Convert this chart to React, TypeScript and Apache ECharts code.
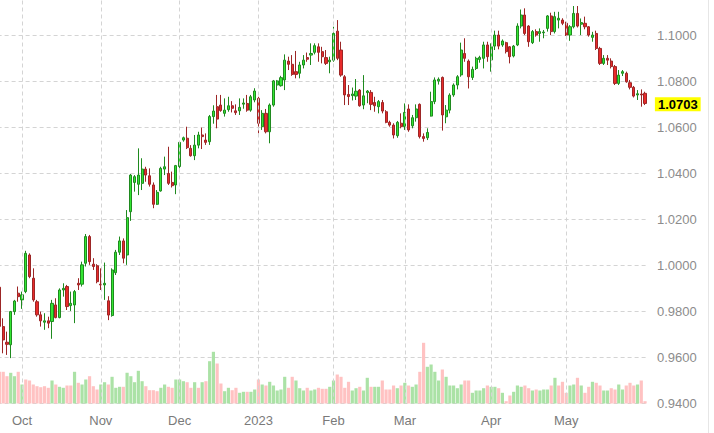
import React, { useEffect, useRef } from 'react';
import * as echarts from 'echarts';

// Trading calendar (weekdays, minus the holidays missing from the chart)
const START_DATE = '2022-09-23';
const END_DATE = '2023-05-31';
const HOLIDAYS = ['2022-11-24', '2022-12-26', '2023-01-02', '2023-01-16', '2023-02-20', '2023-05-29'];
const MONTH_NAMES = ['Jan', 'Feb', 'Mar', 'Apr', 'May', 'Jun', 'Jul', 'Aug', 'Sep', 'Oct', 'Nov', 'Dec'];

function buildDates(start: string, end: string): string[] {
  const out: string[] = [];
  const d = new Date(start + 'T00:00:00Z');
  const e = new Date(end + 'T00:00:00Z');
  while (d.getTime() <= e.getTime()) {
    const wd = d.getUTCDay();
    const s = d.toISOString().slice(0, 10);
    if (wd !== 0 && wd !== 6 && HOLIDAYS.indexOf(s) < 0) out.push(s);
    d.setUTCDate(d.getUTCDate() + 1);
  }
  return out;
}
const dates = buildDates(START_DATE, END_DATE);

const opens = [
  0.9905, 0.9734, 0.9666, 0.9655, 0.9799, 0.9879, 0.9850, 0.9886, 1.0045, 0.9944,
  0.9842, 0.9785, 0.9753, 0.9759, 0.9756, 0.9828, 0.9773, 0.9893, 0.9908, 0.9825,
  0.9828, 0.9922, 0.9918, 1.0009, 1.0125, 1.0005, 0.9998, 0.9918, 0.9915, 0.9846,
  0.9782, 0.9968, 1.0057, 1.0106, 1.0045, 1.0233, 1.0360, 1.0352, 1.0356, 1.0418,
  1.0389, 1.0349, 1.0265, 1.0323, 1.0418, 1.0399, 1.0360, 1.0349, 1.0429, 1.0544,
  1.0552, 1.0508, 1.0476, 1.0522, 1.0566, 1.0544, 1.0537, 1.0646, 1.0689, 1.0696,
  1.0660, 1.0676, 1.0693, 1.0671, 1.0671, 1.0700, 1.0703, 1.0674, 1.0718, 1.0725,
  1.0602, 1.0660, 1.0580, 1.0696, 1.0783, 1.0780, 1.0805, 1.0887, 1.0873, 1.0841,
  1.0834, 1.0870, 1.0902, 1.0913, 1.0925, 1.0949, 1.0928, 1.0902, 1.0884, 1.0891,
  1.1017, 1.0935, 1.0819, 1.0742, 1.0737, 1.0735, 1.0761, 1.0696, 1.0750, 1.0751,
  1.0707, 1.0689, 1.0707, 1.0667, 1.0621, 1.0609, 1.0563, 1.0617, 1.0602, 1.0679,
  1.0606, 1.0641, 1.0699, 1.0559, 1.0554, 1.0648, 1.0711, 1.0800, 1.0816, 1.0645,
  1.0674, 1.0740, 1.0783, 1.0827, 1.0920, 1.0887, 1.0816, 1.0855, 1.0894, 1.0899,
  1.0957, 1.0892, 1.0952, 1.1000, 1.0957, 1.0967, 1.0949, 1.0909, 1.0957, 1.1039,
  1.1087, 1.1039, 1.0967, 1.1015, 1.1007, 1.1010, 1.1029, 1.1083, 1.1015, 1.1065,
  1.1065, 1.1051, 1.1000, 1.1036, 1.1094, 1.1047, 1.1051, 1.1036, 1.0990, 1.1007,
  1.0942, 1.0877, 1.0899, 1.0887, 1.0863, 1.0790, 1.0834, 1.0834, 1.0793, 1.0773,
  1.0740, 1.0744, 1.0747,
];

const closes = [
  0.9735, 0.9676, 0.9657, 0.9799, 0.9845, 0.9864, 0.9872, 1.0052, 0.9951, 0.9850,
  0.9785, 0.9759, 0.9759, 0.9749, 0.9835, 0.9773, 0.9893, 0.9900, 0.9821, 0.9835,
  0.9886, 0.9915, 1.0002, 1.0125, 1.0016, 0.9995, 0.9929, 0.9915, 0.9922, 0.9784,
  0.9980, 1.0057, 1.0106, 1.0031, 1.0207, 1.0392, 1.0385, 1.0392, 1.0418, 1.0392,
  1.0352, 1.0265, 1.0317, 1.0421, 1.0428, 1.0356, 1.0346, 1.0433, 1.0534, 1.0554,
  1.0511, 1.0476, 1.0522, 1.0566, 1.0559, 1.0534, 1.0646, 1.0670, 1.0635, 1.0672,
  1.0674, 1.0693, 1.0682, 1.0663, 1.0686, 1.0705, 1.0674, 1.0732, 1.0757, 1.0617,
  1.0660, 1.0580, 1.0696, 1.0801, 1.0801, 1.0815, 1.0891, 1.0873, 1.0829, 1.0829,
  1.0870, 1.0891, 1.0895, 1.0920, 1.0954, 1.0925, 1.0906, 1.0877, 1.0891, 1.1007,
  1.0899, 1.0826, 1.0740, 1.0733, 1.0744, 1.0756, 1.0693, 1.0736, 1.0757, 1.0699,
  1.0693, 1.0711, 1.0670, 1.0621, 1.0609, 1.0566, 1.0621, 1.0602, 1.0664, 1.0588,
  1.0641, 1.0679, 1.0559, 1.0551, 1.0577, 1.0711, 1.0805, 1.0808, 1.0653, 1.0674,
  1.0739, 1.0783, 1.0819, 1.0935, 1.0899, 1.0819, 1.0851, 1.0899, 1.0903, 1.0957,
  1.0906, 1.0949, 1.1000, 1.0952, 1.0974, 1.0928, 1.0906, 1.0952, 1.1039, 1.1087,
  1.1007, 1.0971, 1.1015, 1.1000, 1.1015, 1.1013, 1.1083, 1.1015, 1.1080, 1.1073,
  1.1051, 1.1000, 1.1036, 1.1094, 1.1039, 1.1054, 1.1036, 1.1000, 1.1000, 1.0942,
  1.0877, 1.0899, 1.0891, 1.0863, 1.0790, 1.0826, 1.0841, 1.0797, 1.0773, 1.0735,
  1.0745, 1.0740, 1.0703,
];

const lows = [
  0.9625, 0.9618, 0.9611, 0.9597, 0.9785, 0.9842, 0.9811, 0.9879, 0.9944, 0.9842,
  0.9777, 0.9734, 0.9720, 0.9727, 0.9681, 0.9770, 0.9770, 0.9864, 0.9806, 0.9802,
  0.9749, 0.9893, 0.9908, 0.9995, 1.0002, 0.9980, 0.9922, 0.9893, 0.9850, 0.9762,
  0.9777, 0.9958, 1.0045, 1.0009, 1.0002, 1.0193, 1.0320, 1.0305, 1.0327, 1.0363,
  1.0342, 1.0248, 1.0262, 1.0320, 1.0392, 1.0349, 1.0338, 1.0309, 1.0421, 1.0537,
  1.0505, 1.0472, 1.0457, 1.0508, 1.0505, 1.0523, 1.0523, 1.0615, 1.0595, 1.0667,
  1.0646, 1.0667, 1.0664, 1.0653, 1.0653, 1.0680, 1.0667, 1.0667, 1.0708, 1.0573,
  1.0588, 1.0573, 1.0530, 1.0689, 1.0761, 1.0776, 1.0761, 1.0848, 1.0823, 1.0812,
  1.0812, 1.0855, 1.0884, 1.0870, 1.0916, 1.0884, 1.0877, 1.0870, 1.0834, 1.0884,
  1.0891, 1.0819, 1.0696, 1.0696, 1.0716, 1.0718, 1.0689, 1.0678, 1.0704, 1.0674,
  1.0667, 1.0660, 1.0660, 1.0617, 1.0602, 1.0551, 1.0554, 1.0595, 1.0588, 1.0580,
  1.0595, 1.0624, 1.0551, 1.0537, 1.0544, 1.0646, 1.0700, 1.0785, 1.0585, 1.0617,
  1.0660, 1.0732, 1.0764, 1.0819, 1.0884, 1.0768, 1.0805, 1.0848, 1.0880, 1.0855,
  1.0884, 1.0841, 1.0935, 1.0938, 1.0949, 1.0920, 1.0877, 1.0903, 1.0952, 1.1029,
  1.1000, 1.0949, 1.0961, 1.0993, 1.0971, 1.0986, 1.1015, 1.1000, 1.1007, 1.1029,
  1.1043, 1.0996, 1.0975, 1.1029, 1.1033, 1.1000, 1.1025, 1.0993, 1.0971, 1.0935,
  1.0870, 1.0870, 1.0870, 1.0855, 1.0783, 1.0783, 1.0822, 1.0793, 1.0764, 1.0729,
  1.0718, 1.0689, 1.0696,
];

const highs = [
  0.9915, 0.9770, 0.9712, 0.9802, 0.9850, 0.9908, 0.9886, 1.0063, 1.0052, 0.9987,
  0.9850, 0.9799, 0.9792, 0.9777, 0.9850, 0.9857, 0.9900, 0.9922, 0.9915, 0.9886,
  0.9893, 0.9944, 1.0016, 1.0136, 1.0132, 1.0031, 1.0005, 0.9987, 1.0012, 0.9866,
  0.9987, 1.0067, 1.0125, 1.0117, 1.0240, 1.0397, 1.0392, 1.0508, 1.0465, 1.0428,
  1.0421, 1.0360, 1.0327, 1.0428, 1.0472, 1.0515, 1.0407, 1.0436, 1.0537, 1.0559,
  1.0602, 1.0522, 1.0566, 1.0580, 1.0598, 1.0573, 1.0653, 1.0695, 1.0740, 1.0740,
  1.0725, 1.0732, 1.0713, 1.0699, 1.0725, 1.0725, 1.0740, 1.0740, 1.0769, 1.0732,
  1.0674, 1.0679, 1.0703, 1.0805, 1.0805, 1.0823, 1.0916, 1.0906, 1.0913, 1.0931,
  1.0884, 1.0913, 1.0924, 1.0964, 1.0964, 1.0964, 1.0949, 1.0935, 1.0906, 1.1036,
  1.1065, 1.0971, 1.0826, 1.0783, 1.0772, 1.0809, 1.0765, 1.0826, 1.0761, 1.0761,
  1.0732, 1.0718, 1.0718, 1.0674, 1.0628, 1.0617, 1.0627, 1.0660, 1.0703, 1.0699,
  1.0653, 1.0699, 1.0703, 1.0573, 1.0595, 1.0754, 1.0816, 1.0816, 1.0820, 1.0696,
  1.0747, 1.0790, 1.0826, 1.0967, 1.0986, 1.0894, 1.0863, 1.0906, 1.0910, 1.0971,
  1.0971, 1.0964, 1.1019, 1.1019, 1.0981, 1.0971, 1.0952, 1.0957, 1.1051, 1.1111,
  1.1116, 1.1043, 1.1022, 1.1025, 1.1029, 1.1022, 1.1087, 1.1097, 1.1101, 1.1101,
  1.1073, 1.1058, 1.1043, 1.1126, 1.1126, 1.1072, 1.1080, 1.1039, 1.1014, 1.1019,
  1.0949, 1.0913, 1.0913, 1.0899, 1.0870, 1.0848, 1.0848, 1.0841, 1.0805, 1.0779,
  1.0761, 1.0764, 1.0754,
];

// Relative volume per session and whether its bar is drawn as "up" (green) or "down" (pink)
const volumes = [
  31.7, 31.7, 27.3, 30.7, 27.3, 31.7, 19, 24, 23, 19,
  17.3, 16.3, 17.3, 15.7, 23, 19, 16.7, 15.7, 18, 18,
  31.7, 20.7, 19, 24, 27.3, 17.3, 14, 19, 21.3, 19,
  26.7, 15.7, 16.7, 16.7, 30.7, 27.3, 21.3, 32.7, 22.3, 17.3,
  13.3, 13.3, 12.3, 15.7, 19, 16.7, 15.7, 24, 24, 22.3,
  21.3, 15.7, 21.3, 15.7, 21.3, 22.3, 42.3, 51.7, 40, 20,
  12.3, 15.7, 13.3, 15.7, 10.7, 11.7, 11.7, 11.7, 14, 24,
  19, 18, 21.7, 18, 13, 14, 26.7, 15.7, 26.7, 23,
  15.3, 13, 15.7, 13, 14, 15.7, 14.7, 14.7, 16.7, 23,
  29, 26.7, 15.7, 21.7, 13, 15.3, 16.7, 13, 25.7, 16.7,
  16.7, 16.7, 23, 14, 14, 18, 15.3, 18, 20.7, 18,
  16.7, 19, 31.7, 60.7, 36.7, 39, 31.7, 23, 34, 26.7,
  18, 18, 15.3, 19, 23, 23, 10.7, 13, 13, 15.3,
  18, 16.7, 16.7, 15.3, 10.7, 2.3, 8, 11.7, 18, 16.7,
  18, 15.3, 13, 14, 13, 14, 14, 18, 25.7, 18,
  21.7, 10.7, 18, 19, 25.7, 18, 10.7, 16.7, 21.7, 20.7,
  18, 13, 13, 15.3, 14, 19, 14, 18, 20.7, 18,
  19, 23, 2.3,
];

const volumeUp = [
  0, 0, 0, 1, 1, 0, 1, 0, 0, 0,
  0, 0, 0, 0, 1, 0, 1, 1, 0, 0,
  1, 0, 1, 1, 0, 0, 0, 1, 1, 0,
  1, 1, 1, 0, 1, 1, 1, 1, 1, 0,
  0, 0, 0, 1, 1, 0, 0, 1, 1, 1,
  0, 0, 1, 0, 1, 0, 1, 1, 0, 0,
  1, 1, 0, 0, 1, 1, 0, 1, 1, 0,
  1, 0, 1, 1, 1, 1, 1, 0, 0, 1,
  1, 1, 0, 1, 1, 0, 0, 0, 1, 1,
  0, 0, 0, 0, 1, 1, 0, 1, 1, 0,
  1, 1, 0, 0, 0, 0, 1, 0, 1, 0,
  1, 1, 0, 0, 1, 1, 1, 1, 0, 1,
  1, 1, 1, 1, 0, 0, 1, 1, 1, 1,
  0, 1, 1, 0, 1, 0, 0, 1, 1, 1,
  0, 0, 1, 0, 1, 1, 1, 0, 1, 0,
  0, 0, 1, 1, 0, 1, 0, 0, 1, 0,
  0, 1, 1, 0, 0, 1, 1, 0, 0, 0,
  1, 0, 0,
];

const Y_MIN = 0.94;
const Y_MAX = 1.12;
const Y_STEP = 0.02;

const FONT = '"Liberation Sans", Arial, Helvetica, sans-serif';

function monthLabel(date: string): string {
  const y = Number(date.slice(0, 4));
  const m = Number(date.slice(5, 7)) - 1;
  return m === 0 ? String(y) : MONTH_NAMES[m];
}

export default function App() {
  const ref = useRef<HTMLDivElement>(null);

  useEffect(() => {
    if (!ref.current) return;
    const chart = echarts.init(ref.current, undefined, { renderer: 'svg' });

    const monthStarts: number[] = [];
    for (let i = 1; i < dates.length; i++) {
      if (dates[i].slice(5, 7) !== dates[i - 1].slice(5, 7)) monthStarts.push(i);
    }
    const monthStartSet = new Set(monthStarts);
    const lastClose = closes[closes.length - 1];

    const candleData = dates.map((_, i) => [opens[i], closes[i], lows[i], highs[i]]);
    const volData = volumes.map((v, i) => ({
      value: v,
      itemStyle: { color: volumeUp[i] ? '#abe2a6' : '#ffc2c2' },
    }));

    const gridLeft = -2.4;
    const gridRight = 67.1;

    chart.setOption({
      animation: false,
      backgroundColor: '#ffffff',
      grid: [
        { left: gridLeft, right: gridRight, top: -11, bottom: 29.5, outerBoundsMode: 'none', containLabel: false },
        { left: gridLeft, right: gridRight, height: 100, bottom: 29.5, outerBoundsMode: 'none', containLabel: false },
      ],
      xAxis: [
        {
          type: 'category',
          gridIndex: 0,
          data: dates,
          boundaryGap: true,
          axisLine: { show: false },
          axisTick: { show: false },
          splitLine: { show: false },
          axisLabel: {
            interval: (idx: number) => monthStartSet.has(idx),
            formatter: (v: string) => monthLabel(v),
            color: '#7a7a7a',
            fontSize: 13,
            fontFamily: FONT,
            margin: 10,
          },
        },
        {
          type: 'category',
          gridIndex: 1,
          data: dates,
          boundaryGap: true,
          show: false,
        },
      ],
      yAxis: [
        {
          type: 'value',
          gridIndex: 0,
          position: 'right',
          min: Y_MIN,
          max: Y_MAX,
          interval: Y_STEP,
          axisLine: { show: false },
          axisTick: { show: false },
          splitLine: { lineStyle: { color: '#d4d4d4', type: [4, 3], width: 1 } },
          axisLabel: {
            showMaxLabel: false,
            formatter: (v: number) => (v > Y_MAX - Y_STEP / 2 ? '' : v.toFixed(4)),
            color: '#8c8c8c',
            fontSize: 13,
            fontFamily: FONT,
            margin: 10,
          },
        },
        { type: 'value', gridIndex: 1, min: 0, max: 100, show: false },
      ],
      series: [
        {
          type: 'line',
          xAxisIndex: 0,
          yAxisIndex: 0,
          data: [],
          z: 1,
          silent: true,
          markLine: {
            silent: true,
            symbol: ['none', 'none'],
            animation: false,
            label: { show: false },
            lineStyle: { color: '#d4d4d4', type: [4, 3], width: 1 },
            data: monthStarts.map((i) => ({ xAxis: dates[i] })),
          },
        },
        {
          type: 'bar',
          xAxisIndex: 1,
          yAxisIndex: 1,
          data: volData,
          barCategoryGap: '15%',
          z: 3,
          silent: true,
        },
        {
          type: 'candlestick',
          xAxisIndex: 0,
          yAxisIndex: 0,
          data: candleData,
          barWidth: 2.6,
          z: 4,
          itemStyle: {
            color: '#33e633',
            color0: '#e82a2a',
            borderColor: '#1f8a1f',
            borderColor0: '#9c2626',
            borderWidth: 1,
          },
          markLine: {
            silent: true,
            symbol: ['none', 'none'],
            animation: false,
            lineStyle: { color: 'rgba(0,0,0,0)', width: 1 },
            label: {
              show: true,
              position: 'end',
              distance: 8,
              formatter: lastClose.toFixed(4),
              backgroundColor: '#ffff00',
              color: '#000000',
              fontWeight: 'bold',
              fontSize: 13,
              fontFamily: FONT,
              padding: [1, 3, 0, 3],
            },
            data: [{ yAxis: lastClose }],
          },
        },
      ],
      graphic: [
        {
          type: 'line',
          shape: { x1: 708.5, y1: 0, x2: 708.5, y2: 433 },
          style: { stroke: '#e6e6e6', lineWidth: 1 },
          silent: true,
        },
      ],
    });

    return () => chart.dispose();
  }, []);

  return (
    <div
      ref={ref}
      style={{ position: 'fixed', left: 0, top: 0, width: 714, height: 433, background: '#fff' }}
    />
  );
}
